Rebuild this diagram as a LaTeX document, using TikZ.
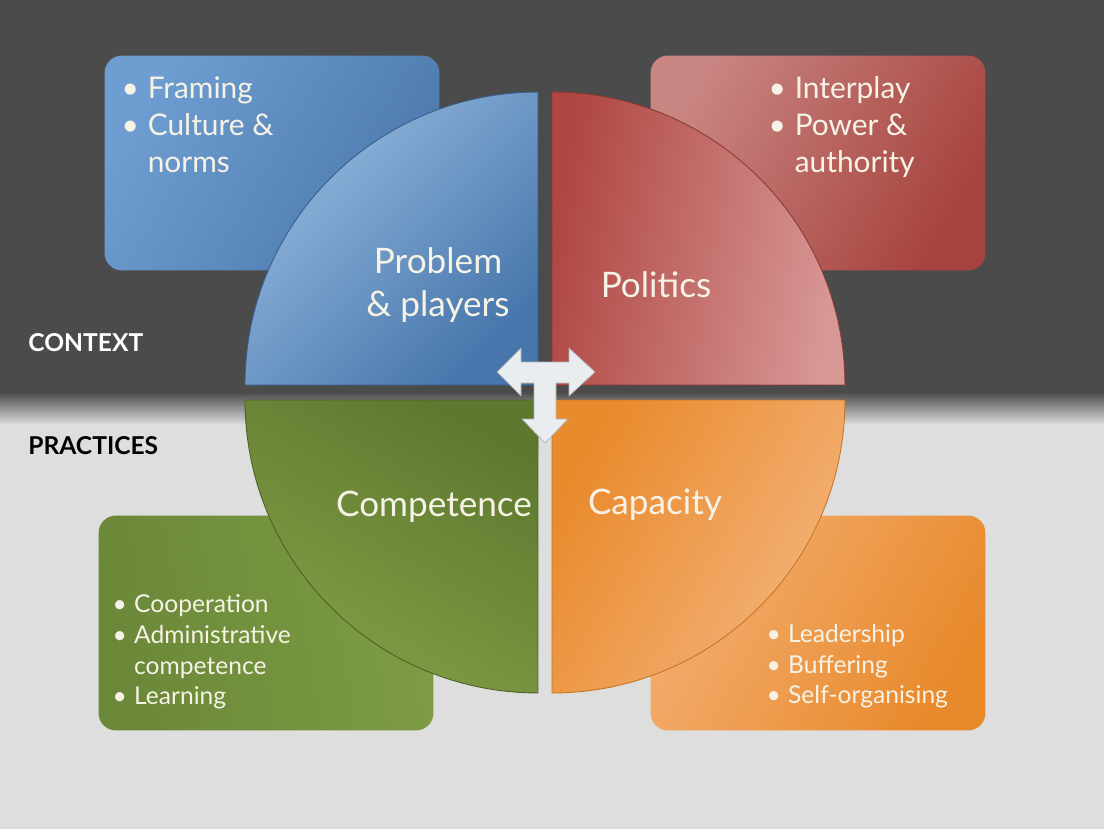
\documentclass[tikz,border=0pt]{standalone}
\usepackage{fontspec}
\setmainfont{Lato}
\usetikzlibrary{positioning}
\definecolor{slate}{HTML}{4B4B4B}
\definecolor{fog}{HTML}{DEDEDE}
\definecolor{cream}{HTML}{F6F3E6}
\definecolor{blueA}{HTML}{6E9DD1}
\definecolor{blueB}{HTML}{4B79AC}
\definecolor{blueC}{HTML}{95B9DE}
\definecolor{blueD}{HTML}{4676AC}
\definecolor{redA}{HTML}{C98582}
\definecolor{redB}{HTML}{A7433E}
\definecolor{redC}{HTML}{AF4642}
\definecolor{redD}{HTML}{D89896}
\definecolor{greenA}{HTML}{6A8838}
\definecolor{greenB}{HTML}{7D9C44}
\definecolor{greenC}{HTML}{5E792F}
\definecolor{greenD}{HTML}{819F46}
\definecolor{orangeA}{HTML}{F3AE70}
\definecolor{orangeB}{HTML}{E8892B}
\definecolor{orangeC}{HTML}{E98A2C}
\definecolor{orangeD}{HTML}{F4B47C}
\definecolor{arrowgrey}{HTML}{E9EDF0}
\tikzstyle{listbox}=[rectangle, rounded corners=10pt, minimum width=6.7cm, minimum height=4.3cm, inner sep=0pt]
\tikzstyle{quarter}=[line width=0.5pt]
\tikzstyle{items}=[anchor=north west, inner sep=0pt, text=cream, align=left]
\tikzstyle{heading}=[text=cream, font=\fontsize{20}{24}\selectfont, align=center, inner sep=0pt]
\tikzstyle{side}=[anchor=west, font=\bfseries\fontsize{14}{16}\selectfont, inner sep=0pt]
\newcommand{\itemlist}[1]{\begin{tabular}{@{}l@{\hspace{0.3em}}l@{}}#1\end{tabular}}
\newcommand{\toplist}{\fontsize{17}{21}\selectfont}
\newcommand{\lowlist}{\fontsize{14}{17.6}\selectfont}

\begin{document}
\begin{tikzpicture}[x=0.02cm, y=0.02cm]
    \useasboundingbox (0,0) rectangle (1104,829);
    \fill[slate] (0,437) rectangle (1104,829);
    \shade[top color=slate, bottom color=fog] (0,404) rectangle (1104,437);
    \fill[fog] (0,0) rectangle (1104,404);

    \node[listbox, left color=blueA, right color=blueB, shading angle=60] (framebox) at (272,666) {};
    \node[listbox, left color=redA, right color=redB, shading angle=60] (powerbox) at (818,666) {};
    \node[listbox, left color=greenA, right color=greenB, shading angle=100] (coopbox) at (266,206) {};
    \node[listbox, left color=orangeA, right color=orangeB, shading angle=60] (leadbox) at (818,206) {};

    \draw[quarter, draw=blueD!80!black, left color=blueC, right color=blueD, shading angle=45]
        (538,444) -- ++(-293,0) arc[start angle=180, end angle=90, radius=5.86cm] -- cycle;
    \draw[quarter, draw=redC!80!black, left color=redC, right color=redD, shading angle=80]
        (552,444) -- ++(0,293) arc[start angle=90, end angle=0, radius=5.86cm] -- cycle;
    \draw[quarter, draw=greenC!80!black, left color=greenC, right color=greenD, shading angle=-30]
        (538,429) -- ++(-293,0) arc[start angle=180, end angle=270, radius=5.86cm] -- cycle;
    \draw[quarter, draw=orangeC!85!black, left color=orangeC, right color=orangeD, shading angle=60]
        (552,429) -- ++(0,-293) arc[start angle=270, end angle=360, radius=5.86cm] -- cycle;

    \node[items, font=\toplist] (framing) at ([xshift=0.34cm, yshift=-0.34cm]framebox.north west)
        {\itemlist{\textbullet & Framing\\ \textbullet & Culture \&\\ & norms}};
    \node[items, font=\toplist] (interplay) at ([xshift=2.36cm, yshift=-0.34cm]powerbox.north west)
        {\itemlist{\textbullet & Interplay\\ \textbullet & Power \&\\ & authority}};
    \node[items, font=\lowlist] (cooperation) at ([xshift=0.28cm, yshift=-1.5cm]coopbox.north west)
        {\itemlist{\textbullet & Cooperation\\ \textbullet & Administrative\\ & competence\\ \textbullet & Learning}};
    \node[items, font=\lowlist] (leadership) at ([xshift=2.32cm, yshift=-2.1cm]leadbox.north west)
        {\itemlist{\textbullet & Leadership\\ \textbullet & Buffering\\ \textbullet & Self-organising}};

    \node[heading] (problem) at (438,544) {Problem\\ \& players};
    \node[heading] (politics) at (656,544) {Politics};
    \node[heading] (competence) at (434,322) {Competence};
    \node[heading] (capacity) at (655,324) {Capacity};

    \node[side, text=white] (context) at (28,486) {CONTEXT};
    \node[side, text=black] (practices) at (28,383) {PRACTICES};

    \draw[fill=arrowgrey, draw=gray!60, line width=0.4pt, line join=round]
        (497,457) -- (521,481) -- (521,467) -- (569,467) -- (569,481) -- (595,457)
        -- (569,433) -- (569,446) -- (556,446) -- (556,410) -- (568,410) -- (545,386)
        -- (522,410) -- (534,410) -- (534,446) -- (521,446) -- (521,433) -- cycle;
\end{tikzpicture}
\end{document}
